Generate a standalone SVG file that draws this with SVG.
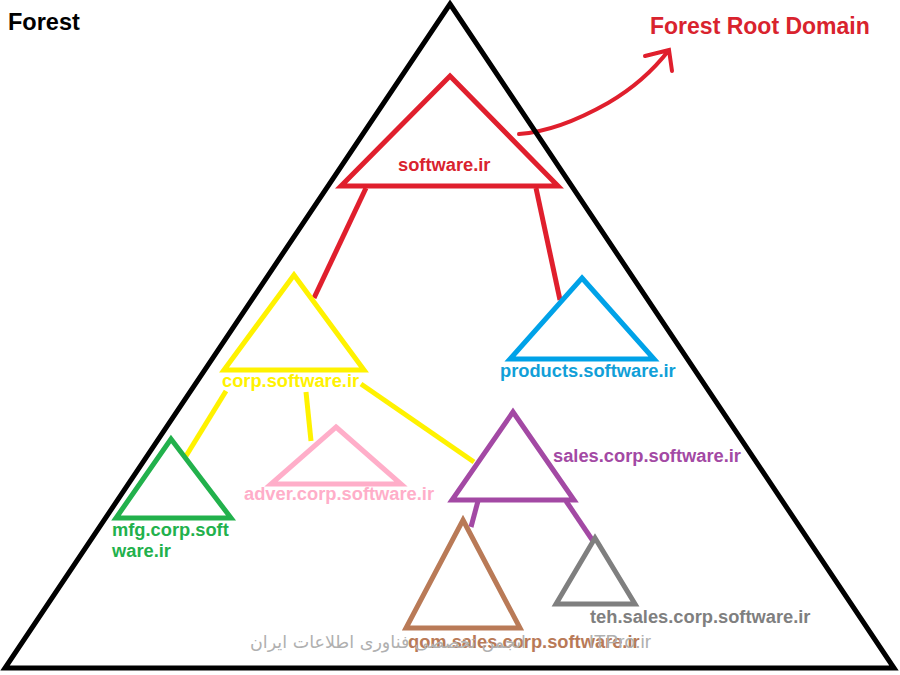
<svg xmlns="http://www.w3.org/2000/svg" width="900" height="675" viewBox="0 0 900 675">
<style>
.t{fill:none;stroke-width:5;stroke-linejoin:miter}
.c{fill:none;stroke-width:5;stroke-linecap:butt}
text{font-family:"Liberation Sans",Arial,sans-serif;font-weight:bold;font-size:18.3px}
</style>
<rect width="900" height="675" fill="#fff"/>
<g id="connectors">
<path class="c" stroke="#e01f2d" d="M366 188L314 298"/>
<path class="c" stroke="#e01f2d" d="M536 188L560 300"/>
<path class="c" stroke="#fff200" d="M226 391L186 456"/>
<path class="c" stroke="#fff200" d="M306 392L311 441"/>
<path class="c" stroke="#fff200" d="M361 384L474 462"/>
<path class="c" stroke="#a349a4" d="M478 501L471 527"/>
<path class="c" stroke="#a349a4" d="M566 501L593 541"/>
<path id="root-arrow" fill="none" stroke="#e01f2d" stroke-width="4" stroke-linecap="round" d="M519 134C548 132 578 120 608 103C632 89 652 72 669 50M645 56L669 50L672 71"/>
</g>
<g id="forest"><path class="t" stroke="#000" d="M450 4L894 668H5Z"/><text x="8" y="30" style="font-size:23.5px" fill="#000">Forest</text></g>
<g id="root-label"><text x="650" y="34" style="font-size:23px" fill="#d9232e">Forest Root Domain</text></g>
<g id="software"><path class="t" stroke="#e01f2d" d="M450 76L558 186H341Z"/><text x="398" y="171" fill="#d9232e">software.ir</text></g>
<g id="corp"><path class="t" stroke="#fff200" d="M294 275L364 370H224Z"/><text x="222" y="387" fill="#fff200">corp.software.ir</text></g>
<g id="products"><path class="t" stroke="#00a2e8" d="M582 278L654 359H510Z"/><text x="500" y="377" fill="#119fd8">products.software.ir</text></g>
<g id="mfg"><path class="t" stroke="#22b14c" d="M171 439L231 518H116Z"/><text x="112" y="536" fill="#22b14c">mfg.corp.soft</text><text x="112" y="557" fill="#22b14c">ware.ir</text></g>
<g id="adver"><path class="t" stroke="#ffaec9" d="M336 427L401 484H271Z"/><text x="244" y="500" fill="#ffaec9">adver.corp.software.ir</text></g>
<g id="sales"><path class="t" stroke="#a349a4" d="M513 412L574 500H452Z"/><text x="553" y="462" fill="#a349a4">sales.corp.software.ir</text></g>
<g id="qom"><path class="t" stroke="#b97a57" d="M463 520L520 628H406Z"/><text x="408" y="648" fill="#b97a57">qom.sales.corp.software.ir</text></g>
<g id="teh"><path class="t" stroke="#7f7f7f" d="M595 538L635 604H556Z"/><text x="590" y="623" fill="#7f7f7f">teh.sales.corp.software.ir</text></g>
<g id="watermark" fill="#b0b0b0"><text x="250" y="648" text-anchor="end" direction="rtl" style="font-size:17.5px;font-weight:normal;font-family:'DejaVu Sans',sans-serif">انجمن تخصصی فناوری اطلاعات ایران</text><text x="651" y="648" text-anchor="end" style="font-size:19px;font-weight:normal">ITPro.ir</text></g>
</svg>
